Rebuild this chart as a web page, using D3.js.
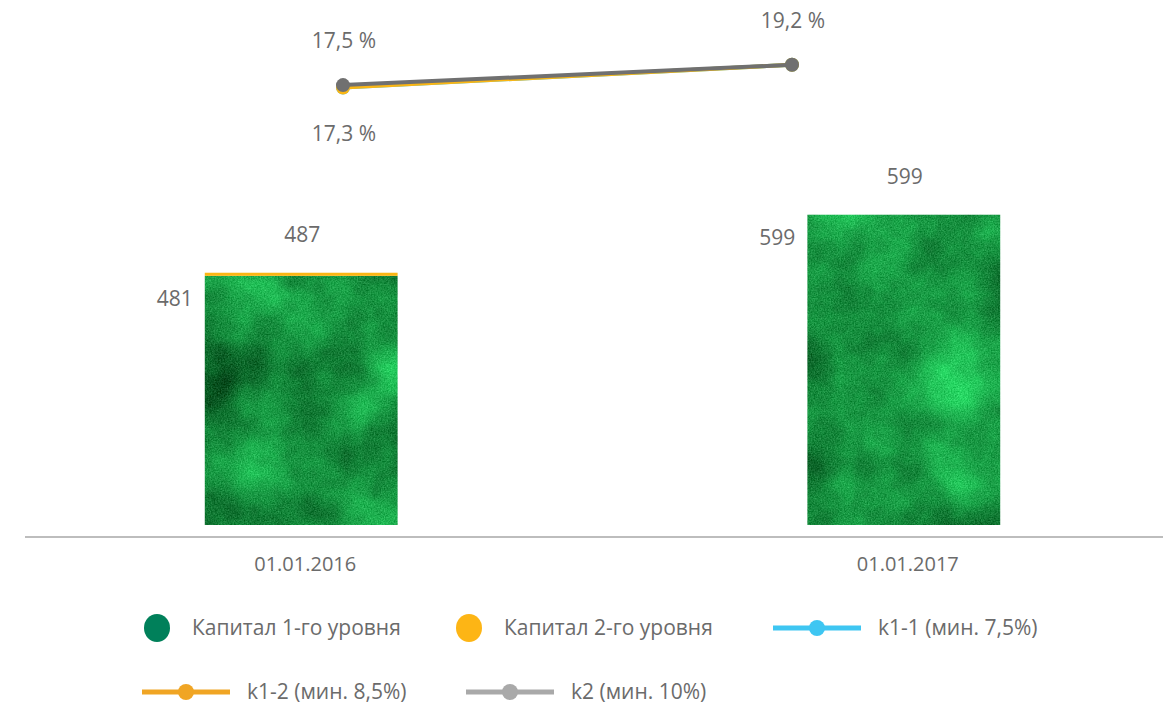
<!DOCTYPE html>
<html>
<head>
<meta charset="utf-8">
<script src="https://cdn.jsdelivr.net/npm/d3@7"></script>
<style>
  html, body { margin: 0; padding: 0; background: #fff; }
  svg { display: block; font-family: "Open Sans", "Noto Sans", sans-serif; }
</style>
</head>
<body>
<svg id="chart" width="1163" height="705"></svg>
<script>
// Capital structure by reporting date, with capital adequacy ratios
const dates = ["01.01.2016", "01.01.2017"];
const tier1 = [481, 599];          // Капитал 1-го уровня
const tier2 = [6, 0];              // Капитал 2-го уровня
const k11 = [17.3, 19.2];          // k1-1
const k12 = [17.3, 19.2];          // k1-2
const k2 = [17.5, 19.2];           // k2

const legendRow1 = [
  { type: "dot", label: "Капитал 1-го уровня", color: "#00805a" },
  { type: "dot", label: "Капитал 2-го уровня", color: "#fdb515" },
  { type: "line", label: "k1-1 (мин. 7,5%)", color: "#3ec6f2" }
];
const legendRow2 = [
  { type: "line", label: "k1-2 (мин. 8,5%)", color: "#f0a524" },
  { type: "line", label: "k2 (мин. 10%)", color: "#a9a9a9" }
];

const textColor = "#6b6b6b";
const fmtPct = v => d3.format(".1f")(v).replace(".", ",") + " %";

const svg = d3.select("#chart");
const defs = svg.append("defs");

// Mottled, grainy green fill for the tier-1 bars
const f = defs.append("filter").attr("id", "mottle")
  .attr("x", 0).attr("y", 0).attr("width", 1).attr("height", 1)
  .attr("color-interpolation-filters", "sRGB");
f.append("feTurbulence").attr("type", "fractalNoise")
  .attr("baseFrequency", "0.012").attr("numOctaves", 6).attr("seed", 11).attr("result", "noise");
f.append("feColorMatrix").attr("in", "noise").attr("type", "matrix")
  .attr("values", [
    0.16, 0, 0, 0, 0.01,
    0.66, 0, 0, 0, 0.24,
    0.34, 0, 0, 0, 0.08,
    0, 0, 0, 0, 1
  ].join(" ")).attr("result", "tint");
f.append("feTurbulence").attr("type", "fractalNoise")
  .attr("baseFrequency", "0.7").attr("numOctaves", 2).attr("seed", 4).attr("result", "fine");
f.append("feColorMatrix").attr("in", "fine").attr("type", "matrix")
  .attr("values", [
    1, 0, 0, 0, 0,
    1, 0, 0, 0, 0,
    1, 0, 0, 0, 0,
    0, 0, 0, 0, 1
  ].join(" ")).attr("result", "grain");
f.append("feComposite").attr("in", "tint").attr("in2", "grain").attr("operator", "arithmetic")
  .attr("k1", 0).attr("k2", 1).attr("k3", 0.3).attr("k4", -0.15).attr("result", "textured");
f.append("feComposite").attr("in", "textured").attr("in2", "SourceGraphic").attr("operator", "in");

// Scales
const x = d3.scaleBand().domain(dates).range([24, 1181]).paddingInner(0.68).paddingOuter(0.3);
const y = d3.scaleLinear().domain([0, 600]).range([525, 214.2]);
const xr = d3.scalePoint().domain(dates).range([343, 792]);
const yr = d3.scaleLinear().domain([17.3, 19.2]).range([87.5, 64.8]);

const rows = dates.map((d, i) => ({ date: d, t1: tier1[i], t2: tier2[i], total: tier1[i] + tier2[i] }));

// Bars
const g = svg.append("g");
g.selectAll("rect.t1").data(rows).join("rect")
  .attr("class", "t1")
  .attr("x", d => x(d.date)).attr("width", x.bandwidth())
  .attr("y", d => y(d.t1)).attr("height", d => y(0) - y(d.t1))
  .attr("fill", "#179a43")
  .attr("filter", "url(#mottle)");
g.selectAll("rect.t2").data(rows.filter(d => d.t2 > 0)).join("rect")
  .attr("class", "t2")
  .attr("x", d => x(d.date)).attr("width", x.bandwidth())
  .attr("y", d => y(d.total)).attr("height", d => y(d.t1) - y(d.total))
  .attr("fill", "#fbb614");

// Bar value labels
g.selectAll("text.tot").data(rows).join("text")
  .attr("class", "tot")
  .attr("x", d => x(d.date) + x.bandwidth() / 2 + 1)
  .attr("y", d => y(d.total) - 38)
  .attr("dy", "0.35em").attr("text-anchor", "middle")
  .attr("font-size", 21).attr("fill", textColor)
  .text(d => d.total);
g.selectAll("text.t1lab").data(rows).join("text")
  .attr("class", "t1lab")
  .attr("x", d => x(d.date) - 12)
  .attr("y", d => y(d.t1) + 23)
  .attr("dy", "0.35em").attr("text-anchor", "end")
  .attr("font-size", 21).attr("fill", textColor)
  .text(d => d.t1);

// Baseline axis
const axis = svg.append("g").attr("transform", "translate(0,537)")
  .call(d3.axisBottom(x).tickSize(0).tickPadding(20));
axis.select(".domain").attr("d", "M25,0H1163").attr("stroke", "#bdbdbd").attr("stroke-width", 2);
axis.selectAll(".tick text")
  .attr("font-family", "'Open Sans', 'Noto Sans', sans-serif")
  .attr("font-size", 20).attr("fill", textColor).attr("dx", 4);

// Ratio lines
const line = d3.line().x((d, i) => xr(dates[i])).y(d => yr(d));
const series = [
  { vals: k11, color: "#3ec6f2" },
  { vals: k12, color: "#fbb614" },
  { vals: k2, color: "#707070" }
];
series.forEach(s => {
  svg.append("path").datum(s.vals).attr("d", line)
    .attr("fill", "none").attr("stroke", s.color).attr("stroke-width", 4);
  svg.selectAll(null).data(s.vals).join("circle")
    .attr("cx", (d, i) => xr(dates[i])).attr("cy", d => yr(d))
    .attr("r", 7).attr("fill", s.color);
});

// Ratio labels: k2 above, k1-2 below where it differs
svg.selectAll("text.k2").data(k2).join("text")
  .attr("class", "k2")
  .attr("x", (d, i) => xr(dates[i]) + 1).attr("y", d => yr(d) - 44)
  .attr("dy", "0.35em").attr("text-anchor", "middle")
  .attr("font-size", 21).attr("fill", textColor)
  .text(fmtPct);
svg.selectAll("text.k12").data(k12.map((v, i) => ({ v, i })).filter(d => d.v !== k2[d.i])).join("text")
  .attr("class", "k12")
  .attr("x", d => xr(dates[d.i]) + 1).attr("y", d => yr(d.v) + 46)
  .attr("dy", "0.35em").attr("text-anchor", "middle")
  .attr("font-size", 21).attr("fill", textColor)
  .text(d => fmtPct(d.v));

// Legend
function drawLegend(items, xs, yy) {
  items.forEach((it, i) => {
    const lg = svg.append("g").attr("transform", `translate(${xs[i]},${yy})`);
    let tx;
    if (it.type === "dot") {
      lg.append("ellipse").attr("cx", 13).attr("cy", 0).attr("rx", 13).attr("ry", 14).attr("fill", it.color);
      tx = 48;
    } else {
      lg.append("line").attr("x1", 0).attr("x2", 88).attr("y1", 0).attr("y2", 0)
        .attr("stroke", it.color).attr("stroke-width", 5);
      lg.append("circle").attr("cx", 44).attr("cy", 0).attr("r", 8).attr("fill", it.color);
      tx = 105;
    }
    lg.append("text").attr("x", tx).attr("y", 0).attr("dy", "0.35em")
      .attr("font-size", 21).attr("fill", textColor).text(it.label);
  });
}
drawLegend(legendRow1, [144, 456, 773], 628);
drawLegend(legendRow2, [142, 466], 692);
</script>
</body>
</html>
